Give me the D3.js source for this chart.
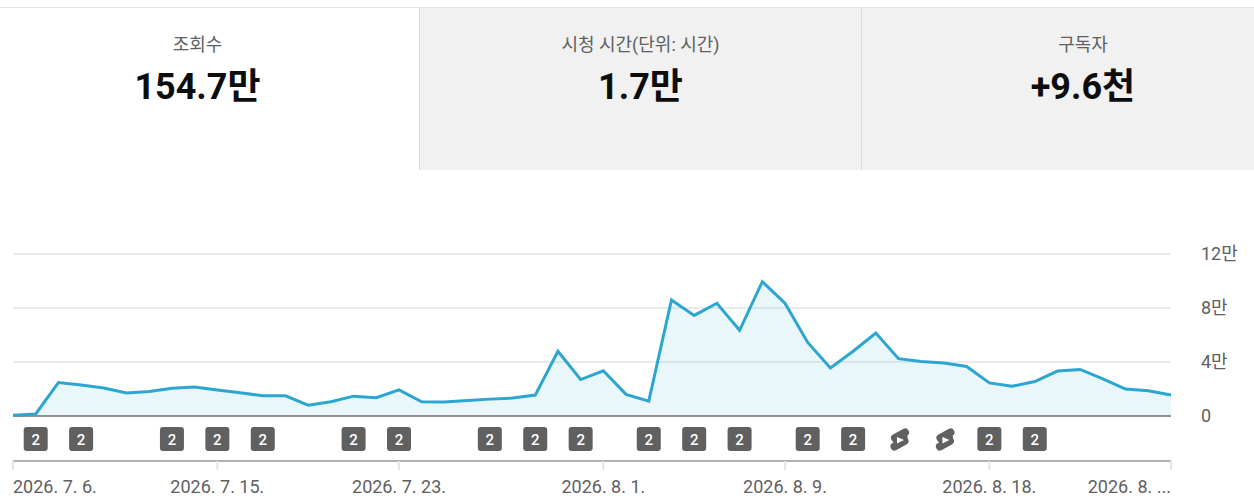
<!DOCTYPE html>
<html>
<head>
<meta charset="utf-8">
<script src="https://cdn.jsdelivr.net/npm/d3@7"></script>
<style>
  html, body { margin: 0; padding: 0; background: #fff; overflow: hidden; }
  svg { display: block; font-family: Roboto, "Noto Sans CJK KR", sans-serif; }
</style>
</head>
<body>
<div id="chart"></div>
<script>
const tabTitles = ['조회수', '시청 시간(단위: 시간)', '구독자'];
const tabValues = ['154.7만', '1.7만', '+9.6천'];

const startDate = '2026-07-06';
// daily views, in units of 10,000 (만)
const views = [
  0.05, 0.15, 2.48, 2.3, 2.07, 1.7, 1.82, 2.05, 2.15, 1.92,
  1.72, 1.5, 1.5, 0.8, 1.05, 1.47, 1.35, 1.93, 1.05, 1.03,
  1.15, 1.25, 1.33, 1.55, 4.8, 2.7, 3.35, 1.6, 1.1, 8.6,
  7.45, 8.35, 6.35, 9.95, 8.35, 5.45, 3.55, 4.8, 6.15, 4.25,
  4.03, 3.92, 3.67, 2.45, 2.2, 2.55, 3.33, 3.45, 2.75, 2.0,
  1.87, 1.55
];

const yTicks = [0, 4, 8, 12];
const xTickDays = [0, 9, 17, 26, 34, 43, 51];
const xTickLabels = ['2026. 7. 6.', '2026. 7. 15.', '2026. 7. 23.', '2026. 8. 1.', '2026. 8. 9.', '2026. 8. 18.', '2026. 8. ...'];

// day index of the upload markers
const videoDays = [1, 3, 7, 9, 11, 15, 17, 21, 23, 25, 28, 30, 32, 35, 37, 43, 45];
const shortsDays = [39, 41];

const width = 1254;
const height = 501;
const plot = { left: 13, right: 1171, top: 254, bottom: 416 };

const svg = d3.select('#chart')
  .append('svg')
  .attr('width', width)
  .attr('height', height);

// tabs
const tabEdges = [0, 419.5, 861.5, 1254];
const tabCenters = [197.5, 640.5, 1083];
const tabFills = ['#ffffff', '#f1f1f1', '#f1f1f1'];

const tabs = svg.selectAll('.tab')
  .data(tabTitles)
  .enter()
  .append('g')
  .attr('class', 'tab');

tabs.append('rect')
  .attr('x', (d, i) => tabEdges[i])
  .attr('y', 8)
  .attr('width', (d, i) => tabEdges[i + 1] - tabEdges[i])
  .attr('height', 162)
  .attr('fill', (d, i) => tabFills[i]);

tabs.append('text')
  .attr('x', (d, i) => tabCenters[i])
  .attr('y', 51)
  .attr('text-anchor', 'middle')
  .attr('font-size', 18)
  .attr('fill', '#606060')
  .text(d => d);

tabs.append('text')
  .attr('x', (d, i) => tabCenters[i])
  .attr('y', 99)
  .attr('text-anchor', 'middle')
  .attr('font-size', 36)
  .attr('font-weight', 700)
  .attr('fill', '#0d0d0d')
  .text((d, i) => tabValues[i]);

svg.append('line')
  .attr('x1', 0).attr('x2', width)
  .attr('y1', 7.5).attr('y2', 7.5)
  .attr('stroke', '#e5e5e5');

svg.selectAll('.tabEdge')
  .data(tabEdges.slice(1, 3))
  .enter()
  .append('line')
  .attr('x1', d => d).attr('x2', d => d)
  .attr('y1', 8).attr('y2', 170)
  .attr('stroke', '#dcdcdc');

// scales
const dayZero = new Date(startDate + 'T00:00:00Z');
const dates = views.map((d, i) => d3.utcDay.offset(dayZero, i));

const xScale = d3.scaleUtc()
  .domain([dates[0], dates[dates.length - 1]])
  .range([plot.left, plot.right]);

const yScale = d3.scaleLinear()
  .domain([0, 12])
  .range([plot.bottom, plot.top]);

// y axis with gridlines
const yAxis = svg.append('g')
  .attr('transform', `translate(${plot.right}, 0)`)
  .call(d3.axisLeft(yScale)
    .offset(0)
    .tickValues(yTicks)
    .tickSize(plot.right - plot.left)
    .tickFormat(d => d === 0 ? '0' : d + '만'));

yAxis.select('.domain').remove();
yAxis.selectAll('line').attr('stroke', '#ebebeb').attr('stroke-width', 2);
yAxis.selectAll('text')
  .attr('x', 30)
  .attr('dy', '0.36em')
  .attr('text-anchor', 'start')
  .attr('font-family', 'Roboto, "Noto Sans CJK KR", sans-serif')
  .attr('font-size', 18)
  .attr('fill', '#606060');

// area and line
const area = d3.area()
  .x((d, i) => xScale(dates[i]))
  .y0(yScale(0))
  .y1(d => yScale(d));

const line = d3.line()
  .x((d, i) => xScale(dates[i]))
  .y(d => yScale(d));

svg.append('path')
  .datum(views)
  .attr('d', area)
  .attr('fill', '#2ba6d1')
  .attr('fill-opacity', 0.1);

svg.append('line')
  .attr('x1', plot.left).attr('x2', plot.right)
  .attr('y1', yScale(0)).attr('y2', yScale(0))
  .attr('stroke', '#909090')
  .attr('stroke-width', 2);

svg.append('path')
  .datum(views)
  .attr('d', line)
  .attr('fill', 'none')
  .attr('stroke', '#2ba6d1')
  .attr('stroke-width', 3)
  .attr('stroke-linejoin', 'miter');

// upload markers
const markerY = 439;

const videoMarks = svg.selectAll('.video')
  .data(videoDays)
  .enter()
  .append('g')
  .attr('class', 'video')
  .attr('transform', d => `translate(${xScale(dates[d])}, ${markerY})`);

videoMarks.append('rect')
  .attr('x', -12).attr('y', -12)
  .attr('width', 24).attr('height', 24)
  .attr('rx', 3)
  .attr('fill', '#606060');

videoMarks.append('text')
  .attr('y', 5.5)
  .attr('text-anchor', 'middle')
  .attr('font-size', 15)
  .attr('font-weight', 500)
  .attr('fill', '#fff')
  .text('2');

const shortsMarks = svg.selectAll('.shorts')
  .data(shortsDays)
  .enter()
  .append('g')
  .attr('class', 'shorts')
  .attr('transform', d => `translate(${xScale(dates[d])}, ${markerY})`);

shortsMarks.append('path')
  .attr('d', 'M6.5,-6.5 L-3.5,-1 M6,2 L-4,7.5')
  .attr('fill', 'none')
  .attr('stroke', '#606060')
  .attr('stroke-width', 8)
  .attr('stroke-linecap', 'round');

shortsMarks.append('path')
  .attr('d', 'M-5,-3 L9,-3 L9,4 L-5,5 Z')
  .attr('fill', '#606060');

shortsMarks.append('path')
  .attr('d', 'M-1.5,-2 L5.5,1 L-1.5,4.5 Z')
  .attr('fill', '#fff');

// date axis
const xAxis = svg.append('g')
  .attr('transform', 'translate(0, 461)')
  .call(d3.axisBottom(xScale)
    .offset(0)
    .tickValues(xTickDays.map(d => dates[d]))
    .tickSize(9)
    .tickPadding(10)
    .tickFormat((d, i) => xTickLabels[i]));

xAxis.select('.domain')
  .attr('stroke', '#b0b0b0')
  .attr('stroke-width', 2)
  .attr('d', `M${plot.left},0H${plot.right}`);
xAxis.selectAll('line').attr('stroke', '#e5e5e5').attr('stroke-width', 2);
xAxis.selectAll('text')
  .attr('font-family', 'Roboto, "Noto Sans CJK KR", sans-serif')
  .attr('font-size', 18)
  .attr('fill', '#606060')
  .attr('text-anchor', (d, i) => i === 0 ? 'start' : i === xTickDays.length - 1 ? 'end' : 'middle');
</script>
</body>
</html>
